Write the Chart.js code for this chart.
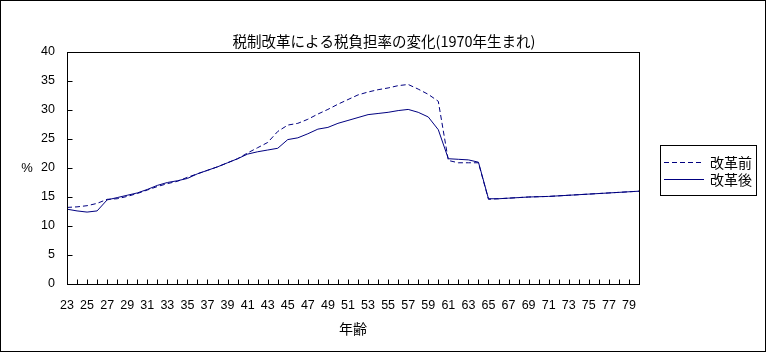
<!DOCTYPE html>
<html><head><meta charset="utf-8">
<script src="https://cdn.jsdelivr.net/npm/chart.js@4"></script>
<style>html,body{margin:0;padding:0;background:#fff}canvas{display:block}</style>
</head><body>
<canvas id="c" width="767" height="354"></canvas>
<script>
const ages = [23,24,25,26,27,28,29,30,31,32,33,34,35,36,37,38,39,40,41,42,43,44,45,46,47,48,49,50,51,52,53,54,55,56,57,58,59,60,61,62,63,64,65,66,67,68,69,70,71,72,73,74,75,76,77,78,79,80];
const beforeReform = [13.2,13.3,13.5,13.9,14.6,14.7,15.1,15.6,16.2,16.8,17.3,17.7,18.4,19.0,19.6,20.2,20.9,21.6,22.6,23.5,24.4,26.3,27.4,27.7,28.4,29.3,30.1,31.0,31.8,32.6,33.1,33.5,33.8,34.2,34.4,33.6,32.7,31.5,21.3,20.9,20.9,20.9,14.6,14.7,14.8,14.9,15.0,15.05,15.1,15.2,15.3,15.4,15.5,15.6,15.7,15.8,15.9,16.0];
const afterReform = [12.9,12.6,12.4,12.6,14.5,14.9,15.3,15.7,16.3,17.0,17.5,17.8,18.2,19.0,19.6,20.2,20.9,21.6,22.4,22.8,23.1,23.4,24.9,25.2,25.9,26.7,27.0,27.7,28.2,28.7,29.2,29.4,29.6,29.9,30.1,29.6,28.8,26.6,21.6,21.5,21.4,21.0,14.7,14.7,14.8,14.9,15.0,15.05,15.1,15.2,15.3,15.4,15.5,15.6,15.7,15.8,15.9,16.0];
const seriesNames = ['改革前','改革後'];
const yMin = 0, yMax = 40, yStep = 5;
const titleText = '税制改革による税負担率の変化(1970年生まれ)';
const yAxisTitle = '%';
const xAxisTitle = '年齢';

const JP = '"Noto Sans CJK JP", sans-serif';
const NUM = '"Liberation Sans", Arial, sans-serif';
const NAVY = '#000080';

const deco = {
  id: 'deco',
  afterDraw(chart) {
    const {ctx, chartArea: a, scales: {x, y}} = chart;
    ctx.save();
    ctx.strokeStyle = '#000';
    ctx.lineWidth = 1;
    ctx.setLineDash([]);
    ctx.strokeRect(0.5, 0.5, 765, 351);
    const L = Math.round(a.left) + 0.5, R = Math.round(a.right) + 0.5;
    const T = Math.round(a.top) + 0.5, B = Math.round(a.bottom) + 0.5;
    ctx.strokeRect(L, T, R - L, B - T);
    ctx.beginPath();
    y.ticks.forEach(t => {
      const py = Math.round(y.getPixelForValue(t.value)) + 0.5;
      ctx.moveTo(L, py); ctx.lineTo(L + 5, py);
    });
    for (let i = 0; i < ages.length; i++) {
      const px = Math.round(x.getPixelForValue(i)) + 0.5;
      ctx.moveTo(px, B); ctx.lineTo(px, B - 5);
    }
    ctx.stroke();
    ctx.fillStyle = '#000';
    ctx.textAlign = 'center';
    ctx.textBaseline = 'middle';
    ctx.font = '14.5px ' + JP;
    ctx.fillText(titleText, 384, 41);
    ctx.font = '13px ' + NUM;
    ctx.fillText(yAxisTitle, 27, 168);
    // legend
    ctx.strokeRect(660.5, 145.5, 96, 50);
    chart.data.datasets.forEach((ds, i) => {
      const ly = 162.5 + i * 17;
      ctx.beginPath();
      ctx.strokeStyle = ds.borderColor;
      ctx.setLineDash(ds.borderDash || []);
      ctx.moveTo(664, ly); ctx.lineTo(704, ly);
      ctx.stroke();
      ctx.setLineDash([]);
      ctx.textAlign = 'left';
      ctx.font = '14px ' + JP;
      ctx.fillText(ds.label, 710, ly);
    });
    ctx.restore();
  }
};

new Chart(document.getElementById('c'), {
  type: 'line',
  data: {
    labels: ages,
    datasets: [
      {label: seriesNames[0], data: beforeReform, borderColor: NAVY, borderWidth: 1, borderDash: [5, 3], pointRadius: 0, tension: 0, fill: false},
      {label: seriesNames[1], data: afterReform, borderColor: NAVY, borderWidth: 1, pointRadius: 0, tension: 0, fill: false}
    ]
  },
  options: {
    responsive: false,
    animation: false,
    devicePixelRatio: 1,
    layout: {padding: {left: 0, top: 52, right: 128, bottom: 0}},
    plugins: {legend: {display: false}, title: {display: false}, tooltip: {enabled: false}},
    scales: {
      x: {
        type: 'category',
        offset: false,
        grid: {display: false, drawTicks: false},
        border: {display: false},
        ticks: {
          autoSkip: false, maxRotation: 0, minRotation: 0, padding: 14,
          color: '#000', font: {family: NUM, size: 12.5},
          callback: function(v, i) { return (i % 2 === 0) ? String(ages[i]) : ''; }
        },
        title: {display: true, text: xAxisTitle, color: '#000', font: {family: JP, size: 14}, padding: {top: 2, bottom: 17}},
        afterFit(s) { s.height = 70; }
      },
      y: {
        min: yMin, max: yMax,
        grid: {display: false, drawTicks: false},
        border: {display: false},
        ticks: {stepSize: yStep, padding: 12, color: '#000', font: {family: NUM, size: 12.5}},
        afterFit(s) { s.width = 67; }
      }
    }
  },
  plugins: [deco]
});
</script>
</body></html>
